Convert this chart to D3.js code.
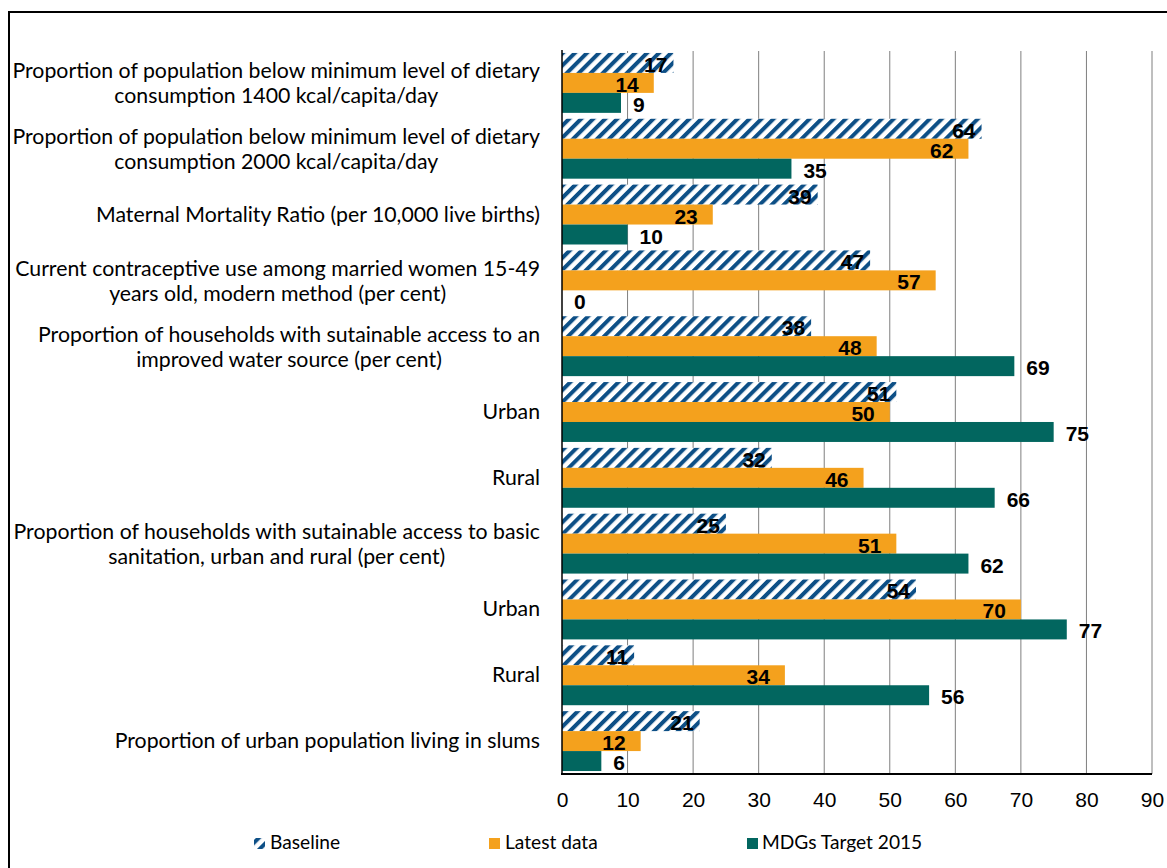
<!DOCTYPE html>
<html>
<head>
<meta charset="utf-8">
<script src="https://cdn.jsdelivr.net/npm/d3@7"></script>
<style>
  body { margin: 0; background: #fff; }
  svg { display: block; }
</style>
</head>
<body>
<svg id="chart" width="1167" height="868"></svg>
<script>
const categories = [
  ["Proportion of population below minimum level of dietary", "consumption 1400 kcal/capita/day"],
  ["Proportion of population below minimum level of dietary", "consumption 2000 kcal/capita/day"],
  ["Maternal Mortality Ratio (per 10,000 live births)"],
  ["Current contraceptive use among married women 15-49", "years old, modern method (per cent)"],
  ["Proportion of households with sutainable access to an", "improved water source  (per cent)"],
  ["Urban"],
  ["Rural"],
  ["Proportion of households with sutainable access to basic", "sanitation, urban and rural (per cent)"],
  ["Urban"],
  ["Rural"],
  ["Proportion of urban population living in slums"]
];
const seriesNames = ["Baseline", "Latest data", "MDGs Target 2015"];
const baseline = [17, 64, 39, 47, 38, 51, 32, 25, 54, 11, 21];
const latest   = [14, 62, 23, 57, 48, 50, 46, 51, 70, 34, 12];
const target   = [9, 35, 10, 0, 69, 75, 66, 62, 77, 56, 6];
const xTicks = [0, 10, 20, 30, 40, 50, 60, 70, 80, 90];

const seriesValues = [baseline, latest, target];
const orange = "#f4a11d", teal = "#02665f", blue = "#0d4f86";

const svg = d3.select("#chart");

// outer frame
svg.append("rect").attr("x", 9).attr("y", 12).attr("width", 1200).attr("height", 900)
  .attr("fill", "none").attr("stroke", "#000").attr("stroke-width", 2);

const defs = svg.append("defs");
const pat = defs.append("pattern").attr("id", "hatch").attr("patternUnits", "userSpaceOnUse")
  .attr("width", 8.5).attr("height", 8.5).attr("patternTransform", "rotate(45)");
pat.append("rect").attr("width", 8.5).attr("height", 8.5).attr("fill", "#fff");
pat.append("rect").attr("x", 0).attr("width", 4).attr("height", 8.5).attr("fill", blue);

const x = d3.scaleLinear().domain([0, 90]).range([562, 1152]);
const idx = categories.map((d, i) => i);
const y = d3.scaleBand().domain(idx).range([50, 774]).paddingInner(0.09).paddingOuter(0.045);
const ys = d3.scaleBand().domain([0, 1, 2]).range([0, y.bandwidth()]);

// gridlines
svg.append("g").selectAll("line").data(xTicks.slice(1)).join("line")
  .attr("x1", d => x(d)).attr("x2", d => x(d)).attr("y1", 51).attr("y2", 774)
  .attr("stroke", "#7f7f7f").attr("stroke-width", 1);

// bars
const fills = ["url(#hatch)", orange, teal];
seriesValues.forEach((vals, s) => {
  svg.append("g").selectAll("rect").data(vals).join("rect")
    .attr("x", x(0)).attr("y", (d, i) => y(i) + ys(s))
    .attr("width", d => x(d) - x(0)).attr("height", ys.bandwidth())
    .attr("fill", fills[s]);
});

// axes lines
svg.append("line").attr("x1", x(0)).attr("x2", x(0)).attr("y1", 50).attr("y2", 774)
  .attr("stroke", "#000").attr("stroke-width", 1.5);
svg.append("line").attr("x1", x(0) - 1).attr("x2", x(90)).attr("y1", 774).attr("y2", 774)
  .attr("stroke", "#000").attr("stroke-width", 2);

// x axis tick labels
const xAxis = d3.axisBottom(x).tickValues(xTicks).tickSize(0).tickPadding(0);
const gx = svg.append("g").attr("transform", "translate(0,792)").call(xAxis);
gx.select(".domain").remove();
gx.selectAll("text").attr("font-family", "Liberation Sans, Arial, sans-serif")
  .attr("font-size", 21).attr("fill", "#000").attr("dy", "0.71em");

// value labels
const labelFont = "Liberation Sans, Arial, sans-serif";
seriesValues.forEach((vals, s) => {
  svg.append("g").selectAll("text").data(vals).join("text")
    .attr("x", d => s === 0 ? x(d) - 6 : s === 1 ? x(d) - 15 : x(d) + 12)
    .attr("y", (d, i) => y(i) + ys(s) + ys.bandwidth() / 2 + 9)
    .attr("text-anchor", s === 2 ? "start" : "end")
    .attr("font-family", labelFont).attr("font-weight", "bold").attr("font-size", 21)
    .attr("fill", "#000").text(d => d);
});

// category labels
const catFont = "Lato, 'Open Sans', sans-serif";
const measure = svg.append("text").attr("font-family", catFont).attr("font-size", 18)
  .text(categories[0][0]);
const w18 = measure.node().getComputedTextLength();
measure.remove();
const catSize = 18 * 528 / w18;

const cg = svg.append("g");
categories.forEach((lines, i) => {
  const cy = y(i) + y.bandwidth() / 2;
  const t = cg.append("text").attr("font-family", catFont).attr("font-size", catSize).attr("fill", "#000");
  const lh = 25;
  lines.forEach((ln, j) => {
    t.append("tspan").attr("y", cy + (j - (lines.length - 1) / 2) * lh + (lines.length === 2 ? 8 : 7)).text(ln);
  });
  const spans = t.selectAll("tspan").nodes();
  const widths = spans.map(n => n.getComputedTextLength());
  const bw = d3.max(widths);
  spans.forEach(n => {
    d3.select(n).attr("x", 540 - bw / 2).attr("text-anchor", "middle");
  });
});

// legend
const legend = [
  { name: seriesNames[0], fill: "url(#hatch)", x: 254, tx: 270 },
  { name: seriesNames[1], fill: orange, x: 489, tx: 505 },
  { name: seriesNames[2], fill: teal, x: 747, tx: 762 }
];
const lg = svg.append("g");
legend.forEach(l => {
  lg.append("rect").attr("x", l.x).attr("y", 838).attr("width", 11).attr("height", 11).attr("fill", l.fill);
  lg.append("text").attr("x", l.tx).attr("y", 849).attr("font-family", catFont)
    .attr("font-size", catSize * 0.9).attr("fill", "#000").text(l.name);
});
</script>
</body>
</html>
